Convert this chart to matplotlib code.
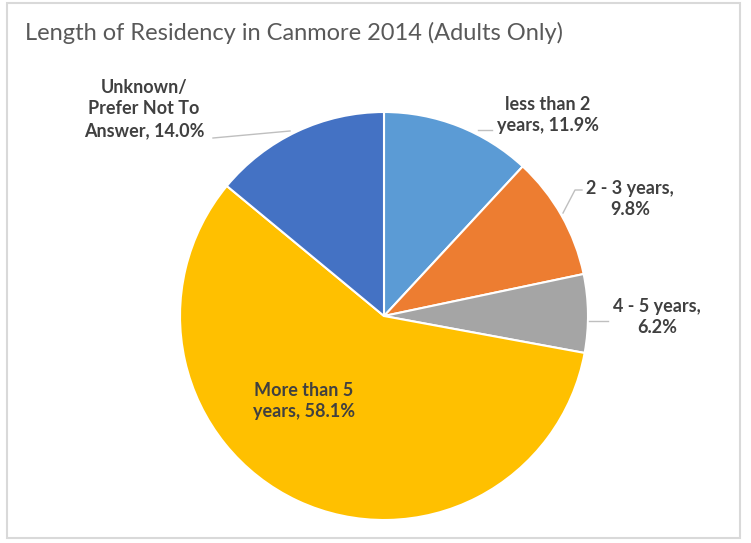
import matplotlib
matplotlib.use("Agg")
import matplotlib.pyplot as plt
from matplotlib.patches import Rectangle

title = "Length of Residency in Canmore 2014 (Adults Only)"
categories = ["less than 2 years", "2 - 3 years", "4 - 5 years", "More than 5 years",
              "Unknown/ Prefer Not To Answer"]
values = [11.9, 9.8, 6.2, 58.1, 14.0]
colors = ["#5B9BD5", "#ED7D31", "#A5A5A5", "#FFC000", "#4472C4"]
label_texts = ["less than 2\nyears, 11.9%", "2 - 3 years,\n9.8%", "4 - 5 years,\n6.2%",
               "More than 5\nyears, 58.1%", "Unknown/\nPrefer Not To\nAnswer, 14.0%"]

W, H = 751, 543
fig = plt.figure(figsize=(W / 100, H / 100), dpi=100)

# pie in its own axes
cx, cy, r = 384, 316, 204
pax = fig.add_axes([(cx - r) / W, 1 - (cy + r) / H, 2 * r / W, 2 * r / H])
pax.pie(values, colors=colors, startangle=90, counterclock=False,
        wedgeprops=dict(edgecolor="white", linewidth=1.5))
pax.set_aspect("equal")
pax.set_xlim(-1, 1)
pax.set_ylim(-1, 1)

# overlay axes for frame, title and labels
ax = fig.add_axes([0, 0, 1, 1])
ax.set_zorder(3)
ax.patch.set_alpha(0)
ax.set_xlim(0, W)
ax.set_ylim(H, 0)
ax.axis("off")

ax.add_patch(Rectangle((7, 3), 733, 535, fill=False, edgecolor="#D9D9D9", lw=1.5))

ax.text(25, 33, title, fontsize=17, color="#595959", family=["Lato", "DejaVu Sans"],
        va="center", ha="left")

lab_kw = dict(fontsize=13, fontweight="bold", color="#404040", family=["Lato", "DejaVu Sans"],
              ha="center", va="center", linespacing=1.35)
pos = [(548, 115), (630, 199), (657, 317), (304, 401), (144, 109)]
for (x, y), t in zip(pos, label_texts):
    ax.text(x, y, t, **lab_kw)

# leader lines
lc = dict(color="#BFBFBF", lw=1)
ax.plot([213, 290], [138, 131], **lc)
ax.plot([478, 492], [130, 130], **lc)
ax.plot([563, 575, 582], [213, 190, 190], **lc)
ax.plot([589, 608], [321, 321], **lc)

fig.savefig("out.png", dpi=100, facecolor="white")
